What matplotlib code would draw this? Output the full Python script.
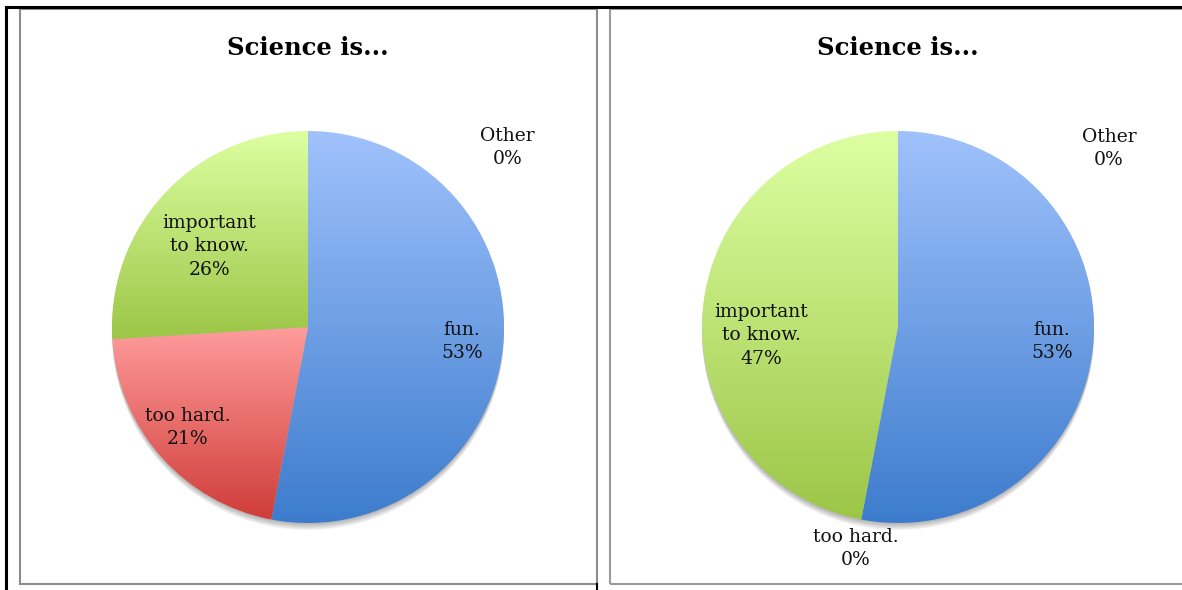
import numpy as np
import matplotlib
matplotlib.use("Agg")
import matplotlib.pyplot as plt
from matplotlib.colors import LinearSegmentedColormap
from matplotlib.patches import Rectangle, Circle
from matplotlib.lines import Line2D

# data
categories = ["fun.", "too hard.", "important\nto know.", "Other"]
left_values = [53, 21, 26, 0]
right_values = [53, 0, 47, 0]
title = "Science is..."

# top / bottom gradient colours per slice
slice_top = ["#a0c2fc", "#ff9c9c", "#ddffa2"]
slice_bottom = ["#3d7ccd", "#cf3d38", "#9cc647"]

W, H = 1182, 590
fig = plt.figure(figsize=(W / 100, H / 100), dpi=100)
fig.patch.set_facecolor("white")

R_PX = 196
LIM = 1.5


def px_axes(cx, cy):
    # square axes centred on the pie centre (pixel coords from the top)
    side = 2 * LIM * R_PX
    return fig.add_axes([(cx - side / 2) / W, (H - cy - side / 2) / H, side / W, side / H])


def draw_pie(ax, values, label_pos):
    ax.set_xlim(-LIM, LIM)
    ax.set_ylim(-LIM, LIM)
    ax.set_aspect("equal")
    ax.axis("off")

    # soft shadow under the pie
    for k in range(1, 7):
        ax.add_patch(Circle((0, -0.006 * k), 1.0, color="black",
                            alpha=0.05, lw=0, zorder=0))

    wedges, _ = ax.pie(values, startangle=90, counterclock=False, radius=1.0,
                       wedgeprops=dict(linewidth=0), normalize=True)
    total = float(sum(values))
    start = 90.0
    for i, w in enumerate(wedges):
        frac = values[i] / total
        end = start - frac * 360
        if values[i] > 0 and i < 3:
            w.set_facecolor("none")
            ext = w.get_path().get_extents()
            cmap = LinearSegmentedColormap.from_list("g", [slice_bottom[i], slice_top[i]])
            grad = np.linspace(0, 1, 256).reshape(-1, 1)
            im = ax.imshow(grad, cmap=cmap, origin="lower", aspect="auto",
                           extent=[ext.x0, ext.x1, ext.y0, ext.y1], zorder=1)
            im.set_clip_path(w)
        mid = np.deg2rad((start + end) / 2)
        dr, dang = label_pos[i]
        a = mid + np.deg2rad(dang)
        ax.text(dr * np.cos(a), dr * np.sin(a),
                "%s\n%d%%" % (categories[i], round(values[i])),
                ha="center", va="center", fontsize=13.5, family="DejaVu Serif",
                linespacing=1.4, color="#111111", zorder=3)
        start = end
    ax.set_xlim(-LIM, LIM)
    ax.set_ylim(-LIM, LIM)


# label placement (radius, angle offset in degrees) per slice
left_labels = [(0.79, 0), (0.80, -1.5), (0.65, 4), (1.37, -48)]
right_labels = [(0.79, 0), (1.15, 0), (0.70, 8.8), (1.41, -49.8)]

ax1 = px_axes(308, 327)
draw_pie(ax1, left_values, left_labels)
ax2 = px_axes(898, 327)
draw_pie(ax2, right_values, right_labels)

for cx in (308, 898):
    fig.text(cx / W, 1 - 48 / H, title, ha="center", va="center",
             fontsize=17.5, fontweight="bold", family="DejaVu Serif")

# table / chart borders
fig.add_artist(Line2D([6 / W, 6 / W], [0, 1 - 7 / H], color="black", lw=2.2))
fig.add_artist(Line2D([6 / W, 1], [1 - 7 / H, 1 - 7 / H], color="black", lw=2.2))
fig.add_artist(Line2D([596.5 / W, 596.5 / W], [0, 6 / H], color="black", lw=1.5))
fig.add_artist(Rectangle((20 / W, 1 - 584 / H), 576.5 / W, 575 / H, fill=False,
                         ec="#8c8c8c", lw=1.5))
fig.add_artist(Rectangle((610 / W, 1 - 584 / H), 600 / W, 575 / H, fill=False,
                         ec="#9a9a9a", lw=1.5))

fig.savefig("out.png", dpi=100)
